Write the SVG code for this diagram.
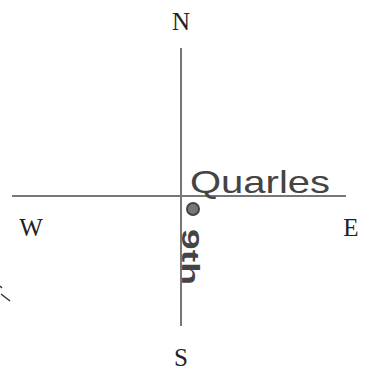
<svg xmlns="http://www.w3.org/2000/svg" width="373" height="375" viewBox="0 0 373 375">
<style>
.ax{stroke:#777;stroke-width:2;fill:none}
.dir{font-family:"Liberation Serif",serif;font-size:25px;fill:#222;text-anchor:middle}
.hand{font-family:"Liberation Sans",sans-serif;fill:#444}
</style>
<rect width="373" height="375" fill="#fff"/>
<g id="connectors">
<line class="ax" x1="181" y1="48" x2="181" y2="326"/>
<line class="ax" x1="12" y1="196" x2="346" y2="196"/>
<path d="M0 286 L2 288 M1 294 L10 301" stroke="#333" stroke-width="1.5" fill="none"/>
</g>
<g id="N"><text class="dir" x="181" y="30">N</text></g>
<g id="S"><text class="dir" x="181" y="366">S</text></g>
<g id="W"><text class="dir" x="31" y="236">W</text></g>
<g id="E"><text class="dir" x="351" y="236">E</text></g>
<g id="dot"><circle cx="193" cy="209" r="6" fill="#777" stroke="#444" stroke-width="2"/></g>
<g id="quarles"><text class="hand" x="190" y="193" font-size="32" textLength="140" lengthAdjust="spacingAndGlyphs">Quarles</text></g>
<g id="ninth"><text class="hand" transform="translate(182,229) rotate(90)" font-size="24" font-weight="bold" fill="#222" textLength="56" lengthAdjust="spacingAndGlyphs" y="0">9th</text></g>
</svg>
